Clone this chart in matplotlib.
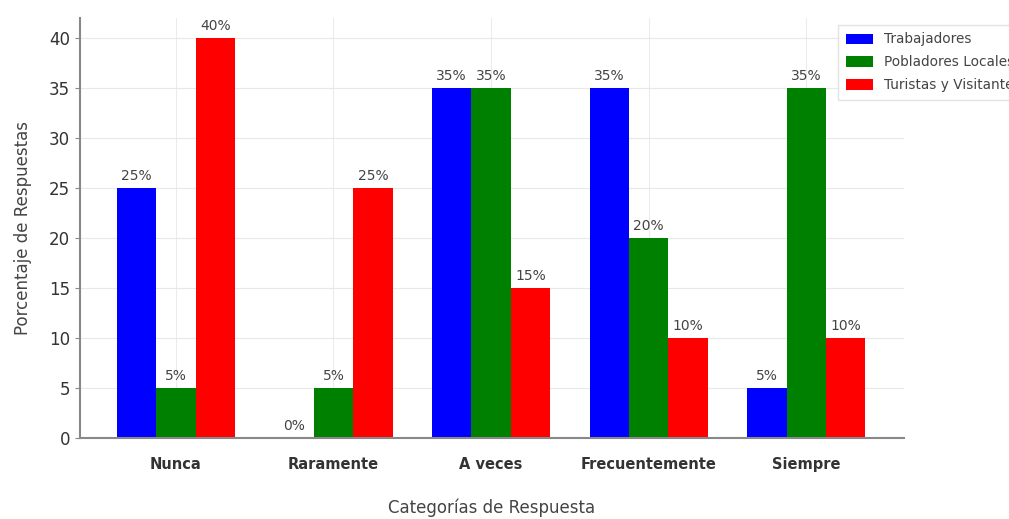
import numpy as np
import matplotlib.pyplot as plt

# Survey responses by group (percent)
categorias = ["Nunca", "Raramente", "A veces", "Frecuentemente", "Siempre"]
trabajadores = [25, 0, 35, 35, 5]
pobladores = [5, 5, 35, 20, 35]
turistas = [40, 25, 15, 10, 10]

series = [
    ("Trabajadores", trabajadores, "blue"),
    ("Pobladores Locales", pobladores, "green"),
    ("Turistas y Visitantes", turistas, "red"),
]

fig = plt.figure(figsize=(10.09, 5.19), dpi=100)
ax = fig.add_axes([0.079, 0.156, 0.817, 0.809])

x = np.arange(len(categorias))
width = 0.25
text_color = "#444444"

for i, (name, vals, color) in enumerate(series):
    pos = x + (i - 1) * width
    ax.bar(pos, vals, width, color=color, label=name, zorder=2)
    for px, v in zip(pos, vals):
        ax.text(px, v + 0.5, f"{v}%", ha="center", va="bottom",
                fontsize=10, color=text_color, zorder=3)

ax.set_xlim(-0.61, 4.62)
ax.set_ylim(0, 42)
ax.set_yticks(range(0, 41, 5))
ax.set_xticks(x)
ax.set_xticklabels(categorias, fontweight="bold", fontsize=10.5, color="#333333")
ax.tick_params(axis="y", labelsize=12, labelcolor="#333333", color="#888888")
ax.tick_params(axis="x", length=0, pad=14)

# horizontal grid behind the bars, faint vertical lines on top
ax.set_axisbelow(True)
ax.grid(True, axis="y", color="#e8e8e8", linewidth=0.8)
ax.grid(True, axis="x", color="#000000", alpha=0.08, linewidth=0.8)
for gl in ax.get_xgridlines():
    gl.set_zorder(2.5)

for s in ["top", "right"]:
    ax.spines[s].set_visible(False)
for s in ["left", "bottom"]:
    ax.spines[s].set_color("#888888")
    ax.spines[s].set_linewidth(1.5)

ax.set_ylabel("Porcentaje de Respuestas", fontsize=12, color=text_color, labelpad=12)
ax.set_xlabel("Categorías de Respuesta", fontsize=12, color=text_color)
ax.xaxis.set_label_coords(0.5, -0.145)

leg = ax.legend(loc="upper left", bbox_to_anchor=(0.912, 1.0), fontsize=9.8,
                frameon=True, fancybox=False, edgecolor="#dddddd",
                handlelength=2.0, handleheight=0.8, borderpad=0.55,
                labelspacing=0.65)
for t in leg.get_texts():
    t.set_color(text_color)

fig.savefig("out.png", dpi=100)
